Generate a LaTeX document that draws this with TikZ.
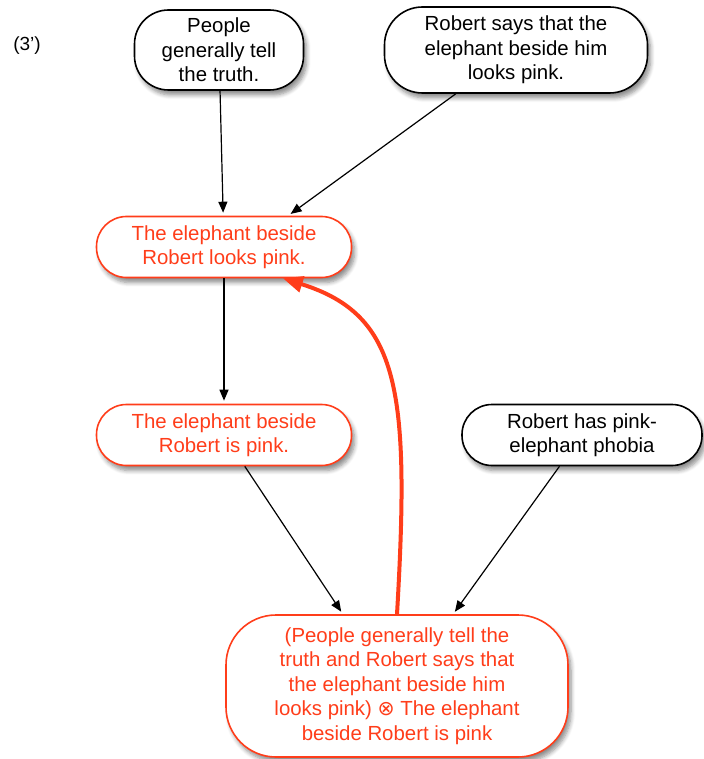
\documentclass[tikz,border=0pt]{standalone}
\usepackage{fontspec}
\setmainfont{Liberation Sans}
\newfontfamily\symfont{DejaVu Sans}
\usetikzlibrary{arrows.meta,shadows.blur}

\definecolor{claimred}{HTML}{FF3D1A}

\tikzset{
  claim/.style={draw, thick, fill=white, rounded corners=15pt, align=center,
    inner sep=0pt, font=\fontsize{10.2}{12.2}\selectfont,
    blur shadow={shadow xshift=1.5pt, shadow yshift=-2.5pt, shadow blur steps=6, shadow opacity=45}},
  redclaim/.style={claim, draw=claimred, text=claimred},
  support/.style={-{Triangle[length=5.5pt,width=4.5pt]}, semithick, shorten >=1.5pt},
  defeat/.style={-{Triangle[length=10pt,width=8pt]}, line width=2pt, claimred}
}

\begin{document}
\begin{tikzpicture}[x=0.5pt,y=-0.5pt]
                    \useasboundingbox (0,0) rectangle (703,759);
                    % Label
                    \node[font=\fontsize{9.5}{11}\selectfont] (tag) at (27,46) {(3')};
                    % Premises
                    \node[claim, minimum width=84.5pt, minimum height=40pt, rounded corners=17pt] (truth) at (219,50)
                        {People\\generally tell\\the truth.};
                    \node[claim, minimum width=131.5pt, minimum height=43pt, rounded corners=19pt] (says) at (516,50)
                        {Robert says that the\\elephant beside him\\looks pink.};
                    % Conclusions
                    \node[redclaim, minimum width=127.5pt, minimum height=30.5pt] (looks) at (224,247)
                        {The elephant beside\\Robert looks pink.};
                    \node[redclaim, minimum width=127.5pt, minimum height=30.5pt] (ispink) at (224,435)
                        {The elephant beside\\Robert is pink.};
                    \node[claim, minimum width=120pt, minimum height=30.5pt] (phobia) at (582,435)
                        {Robert has pink-\\elephant phobia};
                    \node[redclaim, minimum width=171pt, minimum height=71pt, rounded corners=25pt] (combo) at (397,686)
                        {(People generally tell the\\truth and Robert says that\\the elephant beside him\\looks pink) {\symfont ⊗} The elephant\\beside Robert is pink};
                    % Support arrows
                    \draw[support] (truth) -- (looks);
                    \draw[support] (says) -- (looks.26);
                    \draw[support] (looks) -- (ispink);
                    \draw[support] (ispink) -- (combo.127);
                    \draw[support] (phobia) -- (combo.52);
                    % Defeater
                    \draw[defeat] (combo.north) .. controls (410,390) and (400,315) .. (looks.-28);
                \end{tikzpicture}
\end{document}
